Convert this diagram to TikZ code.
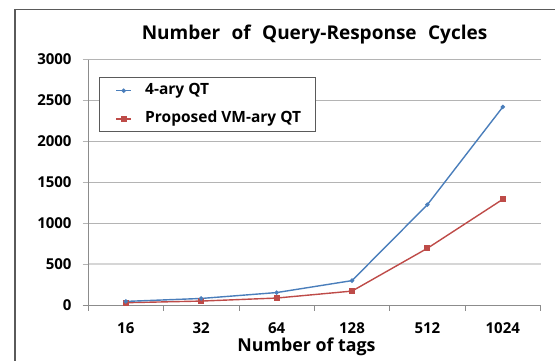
\documentclass[tikz,border=0pt]{standalone}
\usepackage{fontspec}
\setmainfont{Open Sans}
\usetikzlibrary{shapes.geometric}
\definecolor{serA}{HTML}{4A7EBB}
\definecolor{serB}{HTML}{BE4B48}
\definecolor{gridc}{HTML}{B4B4B4}
\definecolor{axisc}{HTML}{8C8C8C}
\definecolor{framec}{HTML}{5A5A5A}
\tikzset{
  lbl/.style={font=\bfseries\fontsize{15}{17}\selectfont, text=black, inner sep=0pt},
  leg/.style={font=\bfseries\fontsize{15.5}{17}\selectfont, text=black, inner sep=0pt},
  ttl/.style={font=\bfseries\fontsize{19}{21}\selectfont, text=black, inner sep=0pt},
  axt/.style={font=\bfseries\fontsize{17.8}{19}\selectfont, text=black, inner sep=0pt},
  gridline/.style={draw=gridc, line width=0.8pt},
  lineA/.style={draw=serA, line width=1.4pt, line join=round},
  lineB/.style={draw=serB, line width=1.4pt, line join=round},
  markA/.style={diamond, fill=serA, inner sep=0pt, minimum width=5pt, minimum height=5pt},
  markB/.style={rectangle, fill=serB, inner sep=0pt, minimum size=6pt},
}
\begin{document}
\begin{tikzpicture}[x=1pt,y=-1pt]
\useasboundingbox (0,0) rectangle (555,360);
% chart frame
\draw[framec, line width=1.6pt] (15,370) -- (15,9.3) -- (570,9.3);
% title
\node[ttl] (title) at (314.5,35) {\spaceskip=0.6em\relax Number of Query-Response Cycles};
% gridlines
\foreach \v/\lab in {6/3000,5/2500,4/2000,3/1500,2/1000} {
  \draw[gridline] (82.7,{305-\v*40.917}) -- (540.5,{305-\v*40.917});
  \node[lbl, anchor=east] (y\lab) at (71.7,{305-\v*40.917}) {\lab};
}
\draw[draw=gridc!55, line width=1.6pt] (88.3,264.1) -- (540.5,264.1);
\draw[draw=gridc, line width=0.8pt] (82.7,264.1) -- (88.3,264.1);
\node[lbl, anchor=east] (y500) at (71.7,264.1) {500};
\node[lbl, anchor=east] (y0) at (71.7,305) {0};
% axes
\draw[axisc, line width=0.8pt] (88.3,59.5) -- (88.3,311);
\draw[axisc, line width=0.8pt] (82.7,305) -- (540.5,305);
\foreach \i in {1,...,6} {
  \draw[axisc, line width=0.8pt] ({88.1+\i*75.4},305) -- ({88.1+\i*75.4},311);
}
% category labels
\foreach \i/\c in {0/16,1/32,2/64,3/128,4/512,5/1024} {
  \node[lbl] (x\c) at ({125.8+\i*75.4},328) {\c};
}
\node[axt] (xt) at (306.5,346.5) {Number of tags};
% data (values divided by 500)
\foreach \i/\a/\b in {0/0.088/0.056,1/0.160/0.096,2/0.304/0.170,3/0.596/0.340,4/2.452/1.386,5/4.840/2.584} {
  \coordinate (A\i) at ({125.8+\i*75.4},{305-\a*40.917});
  \coordinate (B\i) at ({125.8+\i*75.4},{305-\b*40.917});
}
\draw[lineB] (B0) -- (B1) -- (B2) -- (B3) -- (B4) -- (B5);
\draw[lineA] (A0) -- (A1) -- (A2) -- (A3) -- (A4) -- (A5);
\foreach \i in {0,...,5} {
  \node[markB] (mb\i) at (B\i) {};
  \node[markA] (ma\i) at (A\i) {};
}
% legend
\draw[draw=framec, line width=0.8pt, fill=white] (99.5,77.3) rectangle (315.4,131);
\coordinate (la1) at (116,90.7);
\coordinate (la2) at (131.3,90.7);
\coordinate (lb1) at (116,119);
\coordinate (lb2) at (131.3,119);
\draw[lineA] (la1) -- (la2);
\node[markA] (lma) at (123.7,90.7) {};
\draw[lineB] (lb1) -- (lb2);
\node[markB] (lmb) at (123.7,119) {};
\node[leg, anchor=west] (leg1) at (145,90.5) {4-ary QT};
\node[leg, anchor=west] (leg2) at (145,118) {Proposed VM-ary QT};
\end{tikzpicture}
\end{document}
